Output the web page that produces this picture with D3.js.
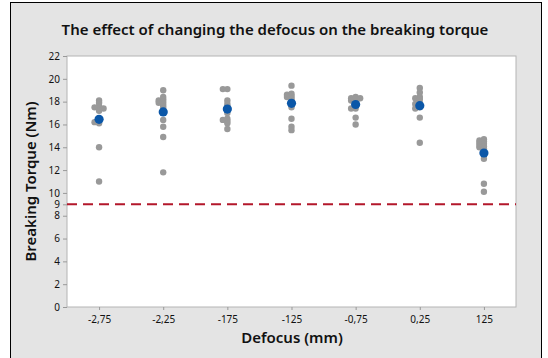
<!DOCTYPE html>
<html>
<head>
<meta charset="utf-8">
<script src="https://cdn.jsdelivr.net/npm/d3@7"></script>
<style>
body{margin:0;background:#fff}
text{font-family:"Noto Sans",sans-serif}
</style>
</head>
<body>
<svg id="chart" width="548" height="358"></svg>
<script>
// values
var categories = ['-2,75', '-2,25', '-175', '-125', '-0,75', '0,25', '125']
var torque = [
  [18.1, 17.9, 17.6, 17.5, 17.4, 17.4, 17.2, 16.5, 16.3, 16.2, 16.1, 14.0, 11.0],
  [19.0, 18.4, 18.2, 18.1, 18.0, 17.9, 17.8, 17.6, 17.4, 16.4, 15.8, 14.9, 11.8],
  [19.1, 19.1, 18.1, 17.8, 17.6, 17.4, 17.0, 16.5, 16.4, 16.3, 16.1, 15.6],
  [19.4, 18.7, 18.6, 18.5, 18.4, 18.3, 18.1, 17.9, 17.5, 16.5, 15.8, 15.5],
  [18.4, 18.3, 18.3, 18.2, 18.1, 17.9, 17.7, 17.4, 17.4, 16.6, 16.0],
  [19.2, 18.8, 18.4, 18.3, 18.2, 17.9, 17.8, 17.7, 17.5, 17.4, 16.6, 14.4],
  [14.7, 14.6, 14.5, 14.4, 14.3, 14.2, 14.1, 14.0, 13.9, 13.7, 13.3, 13.0, 10.8, 10.1]
]
var means = [16.45, 17.1, 17.35, 17.85, 17.75, 17.65, 13.5]
var yTicks = [0, 2, 4, 6, 8, 9, 10, 12, 14, 16, 18, 20, 22]
var limit = 9

var svg = d3.select('#chart')
var m = {left: 67, right: 32, top: 56, bottom: 51}
var W = 548, H = 358

// outer panel
svg.append('rect')
  .attr('x', 10.5).attr('y', 2.5).attr('width', 531).attr('height', 362)
  .attr('fill', '#e4e4e4').attr('stroke', '#000').attr('stroke-width', 1)

var x = d3.scalePoint().domain(categories).range([m.left, W - m.right]).padding(0.5)
var y = d3.scaleLinear().domain([0, 22]).range([H - m.bottom, m.top])

svg.append('rect')
  .attr('x', m.left).attr('y', m.top)
  .attr('width', W - m.right - m.left).attr('height', H - m.bottom - m.top)
  .attr('fill', '#fff').attr('stroke', '#b4b4b4')

// axes
svg.append('g').attr('transform', 'translate(' + m.left + ',0)')
  .call(d3.axisLeft(y).tickValues(yTicks).tickSize(4).tickPadding(3))
svg.append('g').attr('transform', 'translate(0,' + (H - m.bottom) + ')')
  .call(d3.axisBottom(x).tickSize(3).tickPadding(6))
svg.selectAll('.domain').remove()
svg.selectAll('.tick line').attr('stroke', '#999')
svg.selectAll('.tick text').attr('fill', '#111').style('font-size', '10px')

// reference line
svg.append('line')
  .attr('x1', m.left).attr('x2', W - m.right)
  .attr('y1', y(limit)).attr('y2', y(limit))
  .attr('stroke', '#b3172b').attr('stroke-width', 2).attr('stroke-dasharray', '10,6')

// individual values, spread sideways only when they nearly coincide
var d = 4.5, minDist = 2.2
torque.forEach(function(vals, i){
  var cx = x(categories[i])
  var placed = []
  vals.forEach(function(v){
    var cy = y(v)
    var offs = [0]
    for (var k = 1; k < 5; k++) offs.push(-k * d, k * d)
    for (var j = 0; j < offs.length; j++){
      var px = cx + offs[j]
      var ok = placed.every(function(p){ return Math.hypot(p.x - px, p.y - cy) >= minDist })
      if (ok){ placed.push({x: px, y: cy}); break }
    }
  })
  svg.append('g').selectAll('circle').data(placed).join('circle')
    .attr('cx', function(p){ return p.x }).attr('cy', function(p){ return p.y })
    .attr('r', 3.2).attr('fill', '#999')
})

svg.append('g').selectAll('circle').data(means).join('circle')
  .attr('cx', function(v, i){ return x(categories[i]) })
  .attr('cy', function(v){ return y(v) })
  .attr('r', 4.6).attr('fill', '#0b57a8')

// titles
svg.append('text').attr('x', 275).attr('y', 35).attr('text-anchor', 'middle')
  .style('font-size', '15px').style('font-weight', 600).attr('fill', '#111')
  .text('The effect of changing the defocus on the breaking torque')
svg.append('text').attr('x', 292).attr('y', 343).attr('text-anchor', 'middle')
  .style('font-size', '15px').style('font-weight', 600).attr('fill', '#111')
  .text('Defocus (mm)')
svg.append('text').attr('transform', 'translate(36,' + ((m.top + H - m.bottom) / 2) + ') rotate(-90)')
  .attr('text-anchor', 'middle')
  .style('font-size', '15px').style('font-weight', 600).attr('fill', '#111')
  .text('Breaking Torque (Nm)')
</script>
</body>
</html>
